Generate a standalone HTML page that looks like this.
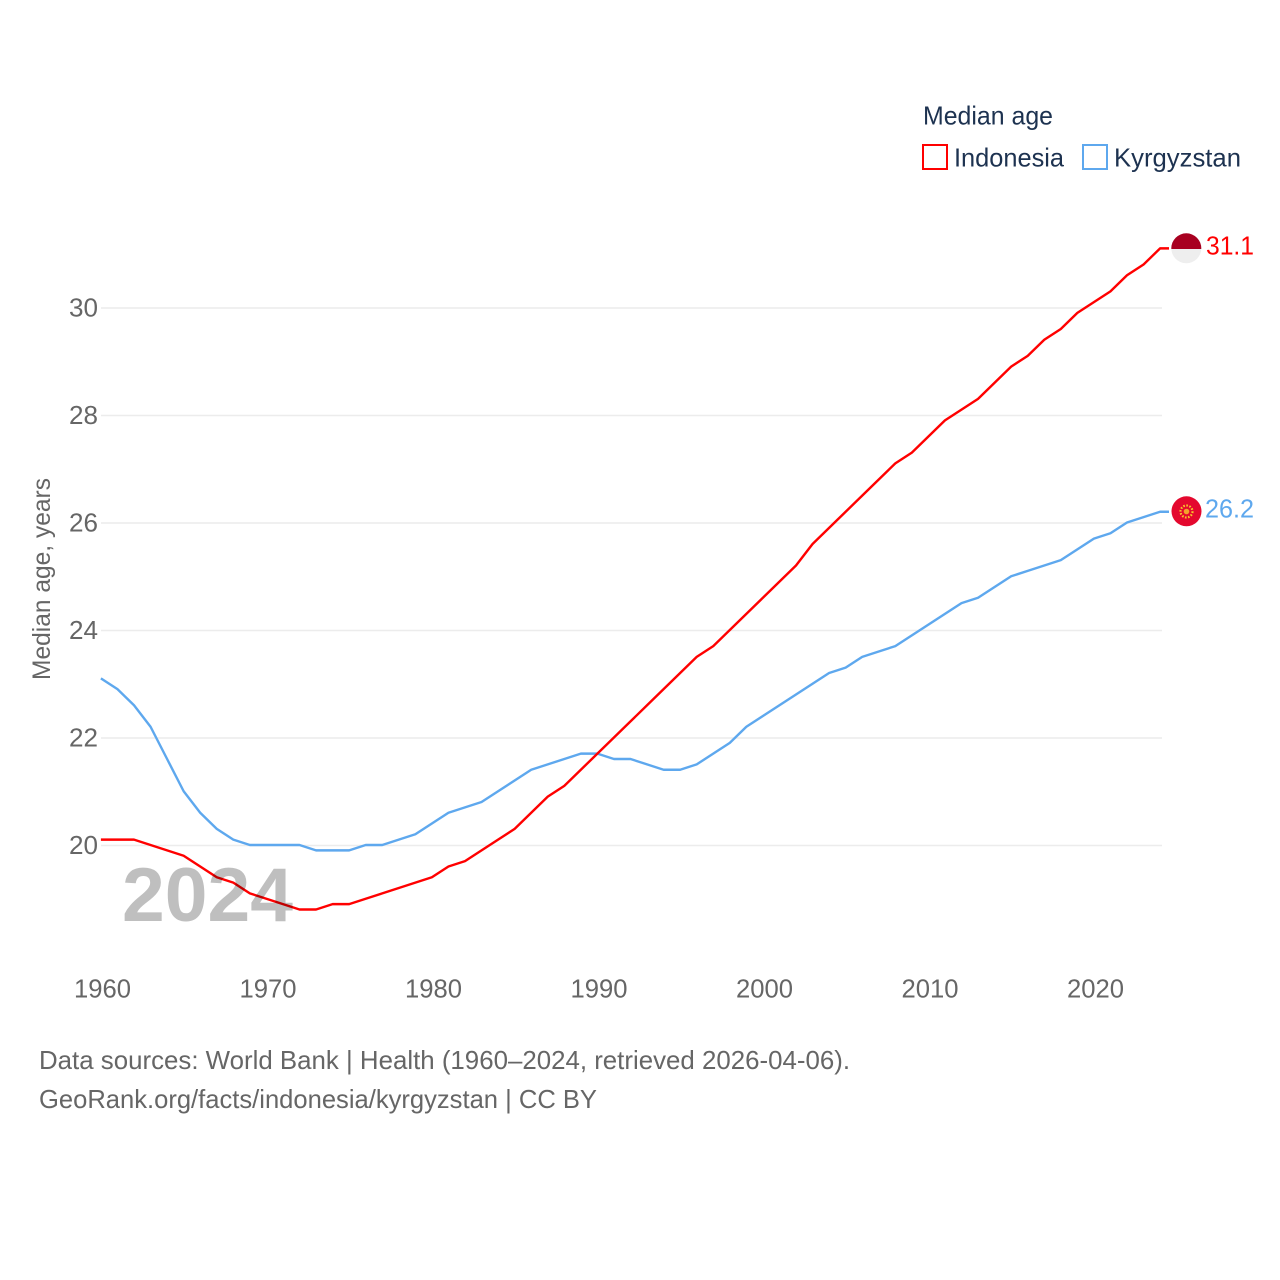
<!DOCTYPE html>
<html lang="en">
<head>
<meta charset="utf-8">
<title>Median age: Indonesia and Kyrgyzstan</title>
<style>
html,body{margin:0;padding:0;background:#fff;}
svg{display:block;}
text{font-family:"Liberation Sans",sans-serif;}
</style>
</head>
<body>
<svg id="chart" xmlns="http://www.w3.org/2000/svg" width="1280" height="1280" viewBox="0 0 1280 1280">
  <rect width="1280" height="1280" fill="#ffffff"/>
  <g id="grid"></g>
  <g id="yticks"></g>
  <g id="xticks"></g>
  <g id="series"></g>
  <text x="122" y="921" font-size="76" font-weight="700" fill="#bfbfbf" textLength="171" lengthAdjust="spacingAndGlyphs" style="mix-blend-mode:multiply">2024</text>
  <text transform="translate(50,680) rotate(-90)" font-size="25" fill="#666666" textLength="202" lengthAdjust="spacingAndGlyphs">Median age, years</text>

  <g>
    <text x="923" y="124.5" font-size="26" fill="#1d3250" textLength="130" lengthAdjust="spacingAndGlyphs">Median age</text>
    <rect x="923" y="145" width="24" height="24" fill="#fff" stroke="#ff0000" stroke-width="2"/>
    <text x="954" y="166.5" font-size="26" fill="#1d3250" textLength="110" lengthAdjust="spacingAndGlyphs">Indonesia</text>
    <rect x="1083" y="145" width="24" height="24" fill="#fff" stroke="#5ea8ee" stroke-width="2"/>
    <text x="1114" y="166.5" font-size="26" fill="#1d3250" textLength="127" lengthAdjust="spacingAndGlyphs">Kyrgyzstan</text>
  </g>

  <g>
    <clipPath id="clip-id"><circle cx="1186.3" cy="248.3" r="15"/></clipPath>
    <g clip-path="url(#clip-id)">
      <rect x="1171" y="233" width="31" height="16" fill="#a80020"/>
      <rect x="1171" y="249" width="31" height="16" fill="#eeeeee"/>
    </g>
  </g>
  <g>
    <circle cx="1186.5" cy="511.3" r="15" fill="#e4082e"/>
    <circle cx="1186.5" cy="511.5" r="6" fill="none" stroke="#f7c62b" stroke-width="2.2" stroke-dasharray="1.6 1.5"/>
    <circle cx="1186.5" cy="511.5" r="2.8" fill="#f3a32a"/>
  </g>
  <text id="label-a" x="1206" y="254.5" font-size="25.5" fill="#ff0000" textLength="48" lengthAdjust="spacingAndGlyphs"></text>
  <text id="label-b" x="1205" y="517.5" font-size="25.5" fill="#5ea8ee" textLength="49" lengthAdjust="spacingAndGlyphs"></text>

  <text x="39" y="1069" font-size="26" fill="#666666" textLength="811" lengthAdjust="spacingAndGlyphs">Data sources: World Bank | Health (1960–2024, retrieved 2026-04-06).</text>
  <text x="39" y="1108" font-size="26" fill="#666666" textLength="558" lengthAdjust="spacingAndGlyphs">GeoRank.org/facts/indonesia/kyrgyzstan | CC BY</text>
</svg>
<script>
const firstYear = 1960;
const indonesia = [20.1,20.1,20.1,20.0,19.9,19.8,19.6,19.4,19.3,19.1,19.0,18.9,18.8,18.8,18.9,18.9,19.0,19.1,19.2,19.3,19.4,19.6,19.7,19.9,20.1,20.3,20.6,20.9,21.1,21.4,21.7,22.0,22.3,22.6,22.9,23.2,23.5,23.7,24.0,24.3,24.6,24.9,25.2,25.6,25.9,26.2,26.5,26.8,27.1,27.3,27.6,27.9,28.1,28.3,28.6,28.9,29.1,29.4,29.6,29.9,30.1,30.3,30.6,30.8,31.1];
const kyrgyzstan = [23.1,22.9,22.6,22.2,21.6,21.0,20.6,20.3,20.1,20.0,20.0,20.0,20.0,19.9,19.9,19.9,20.0,20.0,20.1,20.2,20.4,20.6,20.7,20.8,21.0,21.2,21.4,21.5,21.6,21.7,21.7,21.6,21.6,21.5,21.4,21.4,21.5,21.7,21.9,22.2,22.4,22.6,22.8,23.0,23.2,23.3,23.5,23.6,23.7,23.9,24.1,24.3,24.5,24.6,24.8,25.0,25.1,25.2,25.3,25.5,25.7,25.8,26.0,26.1,26.2];
const yTickValues = [20,22,24,26,28,30];
const xTickValues = [1960,1970,1980,1990,2000,2010,2020];

const NS = 'http://www.w3.org/2000/svg';
function xScale(year){ return 100.9 + (year - 1960) * 16.55; }
function yScale(v){ return 845.5 - (v - 20) * 53.75; }
function make(tag, attrs, parent){
  const el = document.createElementNS(NS, tag);
  for (const k in attrs) el.setAttribute(k, attrs[k]);
  parent.appendChild(el);
  return el;
}

const grid = document.getElementById('grid');
const yt = document.getElementById('yticks');
yTickValues.forEach(function(v){
  const line = make('line', {x1:101, x2:1162, y1:yScale(v), y2:yScale(v), stroke:'#ececec', 'stroke-width':1.5}, grid);
  
  
  const t = make('text', {x:98, y:yScale(v)+8.5, 'text-anchor':'end', 'font-size':25.5, fill:'#666666', textLength:29, lengthAdjust:'spacingAndGlyphs'}, yt);
  
  
  t.textContent = v;
});

const xt = document.getElementById('xticks');
xTickValues.forEach(function(y){
  const t = make('text', {x:xScale(y)+1.6, y:997.5, 'text-anchor':'middle', 'font-size':25.5, fill:'#666666', textLength:57, lengthAdjust:'spacingAndGlyphs'}, xt);
  
  
  t.textContent = y;
});

const seriesGroup = document.getElementById('series');
function drawSeries(values, color){
  const pts = values.map(function(v, i){ return xScale(firstYear + i).toFixed(2) + ',' + (yScale(v) - 0.5).toFixed(2); });
  const last = values[values.length - 1];
  pts.push('1169,' + (yScale(last) - 0.5).toFixed(2));
  return make('polyline', {points:pts.join(' '), fill:'none', stroke:color, 'stroke-width':2.4, 'stroke-linejoin':'round'}, seriesGroup);
}
const lineB = drawSeries(kyrgyzstan, '#5ea8ee');


const lineA = drawSeries(indonesia, '#ff0000');



document.getElementById('label-a').textContent = indonesia[indonesia.length - 1].toFixed(1);
document.getElementById('label-b').textContent = kyrgyzstan[kyrgyzstan.length - 1].toFixed(1);
</script>
</body>
</html>
